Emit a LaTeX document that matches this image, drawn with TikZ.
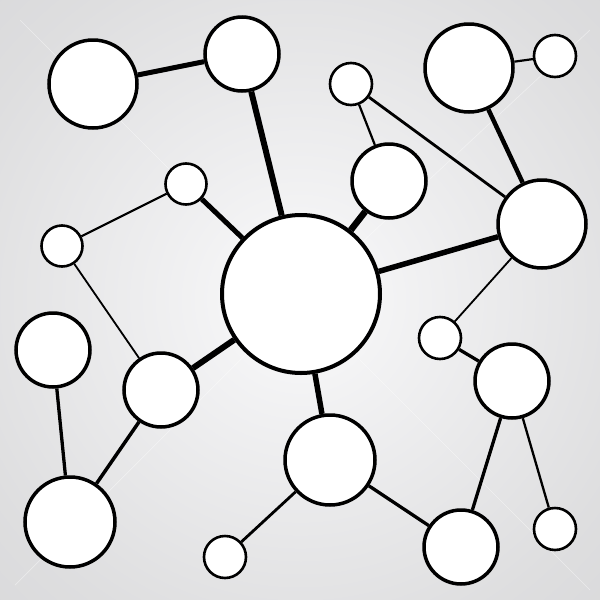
\documentclass[tikz,border=0pt]{standalone}
\pgfdeclareradialshading{bgshade}{\pgfpoint{0bp}{0bp}}{%
  rgb(0bp)=(0.985,0.985,0.985);
  rgb(8bp)=(0.95,0.95,0.955);
  rgb(30bp)=(0.87,0.87,0.875);
  rgb(50bp)=(0.82,0.82,0.83);
  rgb(71bp)=(0.77,0.775,0.785)}
\begin{document}
\begin{tikzpicture}[x=1pt,y=-1pt,
  nd/.style={circle,draw=black,fill=white,inner sep=0pt,line width=3.5pt,minimum size=#1},
  sm/.style={circle,draw=black,fill=white,inner sep=0pt,line width=2.6pt,minimum size=#1},
  link/.style={draw=black,line width=#1}]
\useasboundingbox (0,0) rectangle (600,600);
\shade[shading=bgshade] (0,0) rectangle (600,600);
% faint diagonal streaks
\draw[white,opacity=0.45,line width=0.7pt] (20,20) -- (590,590);
\draw[white,opacity=0.4,line width=0.7pt] (15,585) -- (300,300) -- (590,30);
% nodes
\node[nd=88pt] (a) at (93,84) {};
\node[nd=74pt] (b) at (242,54) {};
\node[sm=42pt] (c) at (351,84) {};
\node[nd=88pt] (d) at (469,68) {};
\node[sm=42pt] (e) at (555,56) {};
\node[nd=74pt] (f) at (389,181) {};
\node[nd=88pt] (g) at (542,224) {};
\node[nd=158pt,line width=4pt] (h) at (301,294) {};
\node[sm=41pt] (i) at (186,184) {};
\node[sm=41pt] (j) at (62,246) {};
\node[nd=74pt] (k) at (53,350) {};
\node[nd=74pt] (l) at (161,390) {};
\node[nd=90pt] (m) at (70,522) {};
\node[sm=42pt] (n) at (440,338) {};
\node[nd=74pt] (o) at (512,381) {};
\node[nd=90pt] (p) at (330,460) {};
\node[sm=42pt] (q) at (225,557) {};
\node[nd=74pt] (r) at (461,547) {};
\node[sm=42pt] (s) at (555,529) {};
% links
\path[link=5pt] (a) -- (b);
\path[link=6pt] (b) -- (h);
\path[link=6.5pt] (f) -- (h);
\path[link=5.5pt] (g) -- (h);
\path[link=5pt] (i) -- (h);
\path[link=6pt] (l) -- (h);
\path[link=5.5pt] (p) -- (h);
\path[link=4.5pt] (d) -- (g);
\path[link=2.2pt] (d) -- (e);
\path[link=2.2pt] (c) -- (f);
\path[link=2.8pt] (c) -- (g);
\path[link=2.2pt] (i) -- (j);
\path[link=1.8pt] (j) -- (l);
\path[link=3.3pt] (k) -- (m);
\path[link=3.5pt] (l) -- (m);
\path[link=1.8pt] (n) -- (g);
\path[link=3.3pt] (n) -- (o);
\path[link=3.3pt] (o) -- (r);
\path[link=2.3pt] (o) -- (s);
\path[link=3.3pt] (p) -- (r);
\path[link=2.8pt] (p) -- (q);
\end{tikzpicture}
\end{document}
